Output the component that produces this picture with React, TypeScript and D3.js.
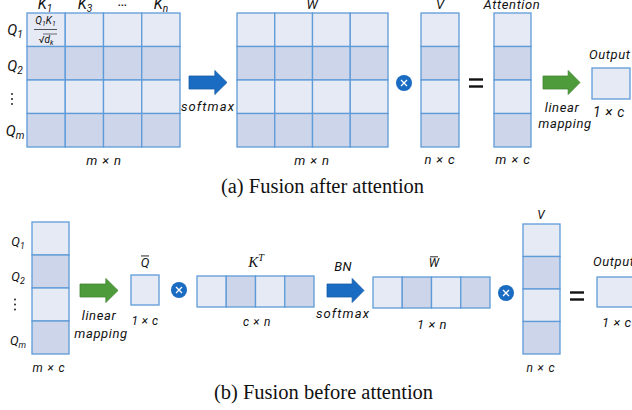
import React from "react";
import * as d3 from "d3";

const LIGHT = "#e6eaf5";
const DARK = "#ccd5e9";
const STROKE = "#5f9bd8";
const BLUE = "#1a6cc2";
const GREEN = "#4d9b3a";

// Blocks: name, x, y, w, h, rows, cols, stripe direction
const blockNames = ["QK", "W", "V", "Att", "Out", "Q", "Qbar", "KT", "Wbar", "V2", "Out2"];
const blockX = [27, 237, 421, 494, 592, 32, 131, 197, 373, 523, 597];
const blockY = [13, 13, 13, 13, 68, 222, 275, 276, 277, 224, 277];
const blockW = [153, 151, 38, 37, 38, 37, 28, 117, 117, 37, 45];
const blockH = [134, 134, 134, 134, 31, 132, 30, 31, 31, 130, 30];
const blockRows = [4, 4, 4, 4, 1, 4, 1, 1, 1, 4, 1];
const blockCols = [4, 4, 1, 1, 1, 1, 1, 4, 4, 1, 1];
const blockStripe = ["row", "row", "row", "row", "row", "row", "row", "col", "col", "row", "row"];

// Arrows: x0, x1, yCenter, colour
const arrowX0 = [189, 543, 80, 327];
const arrowX1 = [227, 580, 118, 364];
const arrowYC = [82.5, 82.5, 290.5, 290.5];
const arrowColor = [BLUE, GREEN, GREEN, BLUE];

const otimesX = [404, 179, 506];
const otimesY = [83, 290, 293];
const equalsX = [476, 577];
const equalsY = [83, 296];

type Lbl = { x: number; y: number; base: string; sub?: string; sup?: string; size?: number; bar?: boolean; anchor?: string; ls?: number; serif?: boolean };
const mathLabels: Lbl[] = [
  { x: 45, y: 9, base: "K", sub: "1", size: 15 },
  { x: 85, y: 9, base: "K", sub: "3", size: 15 },
  { x: 123, y: 6, base: "…", size: 15 },
  { x: 161, y: 9, base: "K", sub: "n", size: 15 },
  { x: 15, y: 35, base: "Q", sub: "1", size: 15 },
  { x: 15, y: 71, base: "Q", sub: "2", size: 15 },
  { x: 15, y: 136, base: "Q", sub: "m", size: 15 },
  { x: 312, y: 9, base: "W", size: 13 },
  { x: 440, y: 9, base: "V", size: 13 },
  { x: 512, y: 9, base: "Attention", size: 13, ls: 0.6 },
  { x: 589, y: 59, base: "Output", size: 13, anchor: "start", ls: 0.6 },
  { x: 104, y: 165, base: "m × n", size: 13, ls: 0.9 },
  { x: 312, y: 165, base: "m × n", size: 13, ls: 0.9 },
  { x: 440, y: 164, base: "n × c", size: 13, ls: 0.9 },
  { x: 513, y: 164, base: "m × c", size: 13, ls: 0.9 },
  { x: 609, y: 117, base: "1 × c", size: 14, ls: 0.6 },
  { x: 208, y: 111, base: "softmax", size: 13, ls: 1.1 },
  { x: 562, y: 112, base: "linear", size: 13, ls: 0.6 },
  { x: 565, y: 128, base: "mapping", size: 13, ls: 0.6 },
  { x: 18, y: 246, base: "Q", sub: "1", size: 13 },
  { x: 18, y: 281, base: "Q", sub: "2", size: 13 },
  { x: 18, y: 345, base: "Q", sub: "m", size: 13 },
  { x: 49, y: 372, base: "m × c", size: 12, ls: 0.9 },
  { x: 99, y: 320, base: "linear", size: 13, ls: 0.6 },
  { x: 101, y: 338, base: "mapping", size: 13, ls: 0.6 },
  { x: 145, y: 267, base: "Q", size: 13, bar: true },
  { x: 145, y: 325, base: "1 × c", size: 12, ls: 0.5 },
  { x: 256, y: 267, base: "K", sup: "T", size: 15, serif: true },
  { x: 257, y: 326, base: "c × n", size: 12, ls: 0.7 },
  { x: 343, y: 271, base: "BN", size: 13, ls: 0.3 },
  { x: 343, y: 318, base: "softmax", size: 13, ls: 1.1 },
  { x: 434, y: 267, base: "W", size: 12, bar: true },
  { x: 432, y: 329, base: "1 × n", size: 13, ls: 0.6 },
  { x: 541, y: 219, base: "V", size: 12 },
  { x: 541, y: 372, base: "n × c", size: 12, ls: 0.9 },
  { x: 593, y: 266, base: "Output", size: 13, anchor: "start", ls: 0.6 },
  { x: 602, y: 327, base: "1 × c", size: 13, anchor: "start", ls: 0.6 },
];

const vdotsX = [12, 15];
const vdotsY = [99, 304.5];

const captions = ["(a) Fusion after attention", "(b) Fusion before attention"];
const captionX = [322.5, 323.5];
const captionY = [193, 399];

function Block({ i }: { i: number }) {
  const xs = d3.scaleBand<number>().domain(d3.range(blockCols[i])).range([blockX[i], blockX[i] + blockW[i]]);
  const ys = d3.scaleBand<number>().domain(d3.range(blockRows[i])).range([blockY[i], blockY[i] + blockH[i]]);
  const cells: React.ReactNode[] = [];
  for (let r = 0; r < blockRows[i]; r++) {
    for (let c = 0; c < blockCols[i]; c++) {
      const k = blockStripe[i] === "row" ? r : c;
      cells.push(
        <rect key={`${r}-${c}`} x={xs(c)} y={ys(r)} width={xs.bandwidth()} height={ys.bandwidth()}
          fill={k % 2 === 0 ? LIGHT : DARK} stroke={STROKE} strokeWidth={1.3} />
      );
    }
  }
  return <g>{cells}</g>;
}

function Arrow({ i }: { i: number }) {
  const x0 = arrowX0[i], x1 = arrowX1[i], yc = arrowYC[i];
  const hx = x0 + (x1 - x0) * 0.68;
  const sh = 6.5, hh = 12;
  const pts: [number, number][] = [
    [x0, yc - sh], [hx, yc - sh], [hx, yc - hh], [x1, yc], [hx, yc + hh], [hx, yc + sh], [x0, yc + sh],
  ];
  const line = d3.line();
  return <path d={line(pts) + "Z"} fill={arrowColor[i]} stroke={d3.color(arrowColor[i])!.darker(0.4).toString()} strokeWidth={0.8} />;
}

const SANS = "Roboto, 'DejaVu Sans', sans-serif";
const SERIF = "'Liberation Serif', 'DejaVu Serif', serif";

function MathLabel({ l }: { l: Lbl }) {
  const s = l.size ?? 12;
  return (
    <g>
      <text x={l.x} y={l.y} fontSize={s} fontStyle="italic" fontFamily={l.serif ? SERIF : SANS}
        textAnchor={l.anchor ?? "middle"} fill="#111" letterSpacing={l.ls ?? 0}>
        {l.base}
        {l.sub && <tspan fontSize={s * 0.68} dy={s * 0.22}>{l.sub}</tspan>}
        {l.sup && <tspan fontSize={s * 0.68} dy={-s * 0.42}>{l.sup}</tspan>}
      </text>
      {l.bar && <line x1={l.x - 4} x2={l.x + 4} y1={l.y - s * 0.85} y2={l.y - s * 0.85} stroke="#111" strokeWidth={0.9} />}
    </g>
  );
}

export default function App() {
  return (
    <svg width={632} height={410} style={{ position: "absolute", left: 0, top: 0, background: "#fff" }}>
      {blockNames.map((_, i) => <Block key={i} i={i} />)}
      {/* fraction in first cell */}
      <g fontFamily={SANS} fontStyle="italic" fill="#111" textAnchor="middle">
        <text x={45.5} y={24} fontSize={10}>Q<tspan fontSize={7} dy={2}>1</tspan><tspan dy={-2}>K</tspan><tspan fontSize={7} dy={2}>1</tspan></text>
        <line x1={34} x2={57} y1={29.5} y2={29.5} stroke="#111" strokeWidth={0.7} />
        <text x={46} y={43} fontSize={10}><tspan fontStyle="normal">√</tspan>d<tspan fontSize={7} dy={2}>k</tspan></text>
        <line x1={43} x2={57} y1={34} y2={34} stroke="#111" strokeWidth={0.6} />
      </g>
      {arrowX0.map((_, i) => <Arrow key={i} i={i} />)}
      {otimesX.map((x, i) => (
        <g key={i}>
          <circle cx={x} cy={otimesY[i]} r={8} fill={BLUE} />
          <path d={`M${x - 3},${otimesY[i] - 3}L${x + 3},${otimesY[i] + 3}M${x + 3},${otimesY[i] - 3}L${x - 3},${otimesY[i] + 3}`} stroke="#fff" strokeWidth={1.3} />
        </g>
      ))}
      {equalsX.map((x, i) => (
        <g key={i} stroke="#111" strokeWidth={2.4}>
          <line x1={x - 7} x2={x + 7} y1={equalsY[i] - 3.5} y2={equalsY[i] - 3.5} />
          <line x1={x - 7} x2={x + 7} y1={equalsY[i] + 3.5} y2={equalsY[i] + 3.5} />
        </g>
      ))}
      {vdotsX.map((x, i) => (
        <g key={i} fill="#111">
          {[-5, 0, 5].map((d) => <circle key={d} cx={x} cy={vdotsY[i] + d} r={0.9} />)}
        </g>
      ))}
      {mathLabels.map((l, i) => <MathLabel key={i} l={l} />)}
      {captions.map((c, i) => (
        <text key={i} x={captionX[i]} y={captionY[i]} fontSize={20.5} fontFamily={SERIF} textAnchor="middle" fill="#111">{c}</text>
      ))}
    </svg>
  );
}
